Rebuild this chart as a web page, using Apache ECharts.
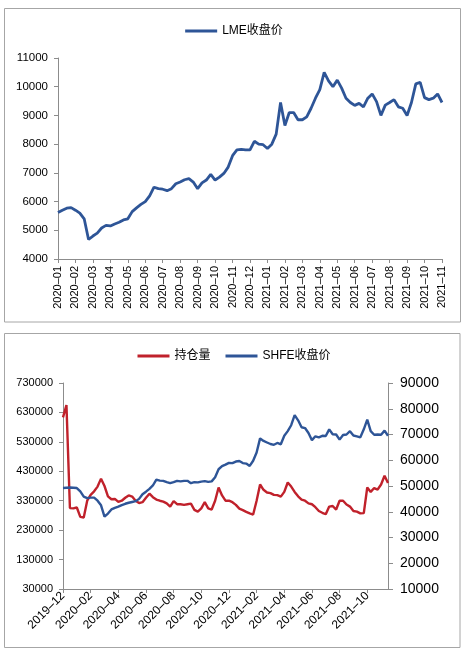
<!DOCTYPE html>
<html><head><meta charset="utf-8">
<script src="https://cdn.jsdelivr.net/npm/echarts@6/dist/echarts.min.js"></script>
<style>html,body{margin:0;padding:0;background:#fff;}#c{width:468px;height:655px;}</style>
</head><body><div id="c"></div>
<script>
// ---- Top chart: LME close (weekly readings, 4 per month) ----
const lmeMonths = ['2020-01','2020-02','2020-03','2020-04','2020-05','2020-06','2020-07','2020-08','2020-09','2020-10','2020-11','2020-12',
  '2021-01','2021-02','2021-03','2021-04','2021-05','2021-06','2021-07','2021-08','2021-09','2021-10','2021-11'];
const lmeClose = [
  5620,5700,5770,5790, 5700,5600,5400,4680, 4800,4900,5080,5170, 5150,5220,5280,5360,
  5400,5650,5780,5900, 6000,6200,6500,6450, 6430,6380,6450,6620, 6680,6760,6800,6680,
  6450,6650,6750,6950, 6750,6850,6980,7200, 7600,7800,7820,7800, 7800,8100,8000,7980,
  7850,8000,8350,9450, 8650,9100,9100,8850, 8850,8950,9250,9600, 9900,10500,10200,10000,
  10230,9950,9600,9450, 9350,9420,9300,9600, 9750,9480,9000,9360, 9450,9550,9300,9250,
  9000,9450,10100,10150, 9620,9550,9600,9750, 9450
];

// ---- Bottom chart: SHFE open interest & close (weekly readings) ----
const shfeMonths = ['2019-12','2020-01','2020-02','2020-03','2020-04','2020-05','2020-06','2020-07','2020-08','2020-09','2020-10','2020-11','2020-12',
  '2021-01','2021-02','2021-03','2021-04','2021-05','2021-06','2021-07','2021-08','2021-09','2021-10','2021-11'];
const openInterest = [
  613000,655000,305000,304000, 307000,275000,273000,330000, 350000,362000,378000,405000, 380000,345000,335000,336000,
  326000,330000,340000,348000, 344000,330000,322000,325000, 340000,354000,342000,334000, 330000,327000,321000,310000,
  329000,318000,318000,316000, 318000,320000,299000,293000, 304000,325000,304000,300000, 330000,375000,348000,330000,
  330000,325000,316000,303000, 298000,292000,287000,283000, 330000,385000,367000,358000, 356000,350000,349000,344000,
  360000,392000,378000,360000, 345000,334000,330000,321000, 318000,308000,295000,289000, 284000,310000,312000,300000,
  330000,330000,317000,310000, 295000,293000,287000,288000, 375000,360000,373000,368000, 385000,415000,390000
];
const shfeClose = [
  49200,49300,49400,49300, 49200,47900,45900,45300, 45500,45500,44300,42500, 38100,39300,40900,41500,
  42000,42600,43100,43500, 43800,44100,45000,46800, 47800,48900,50200,52500, 52100,52000,51500,51100,
  51500,52000,51800,52000, 52000,51100,51500,51400, 51700,51900,51600,51800, 53400,56500,57700,58300,
  59000,58900,59500,59700, 58900,58700,57800,59800, 63000,68500,67500,66900, 66300,66000,66700,66200,
  69500,71300,73600,77500, 75500,72800,72500,70600, 67800,69300,68900,69500, 69400,72000,70100,70000,
  68000,69800,70000,71300, 69600,69300,68900,72000, 75800,71300,69900,70000, 69900,71500,69500
];
const leftTicks = [30000,130000,230000,330000,430000,530000,630000,730000];

function weeklyCats(months, count) {
  const out = [];
  for (const m of months) for (let w = 1; w <= 4; w++) if (out.length < count) out.push(m + '-w' + w);
  return out;
}
const topCats = weeklyCats(lmeMonths, lmeClose.length);
const botCats = weeklyCats(shfeMonths, openInterest.length);

const FONT = "'Liberation Sans', Arial, 'Noto Sans CJK SC', sans-serif";
const BLUE = '#2E5597', RED = '#C0212B', AX = '#8c8c8c', TXT = '#000';
const fmtMonth = v => v.slice(0, 7).replace('-', '–');
const fmtNum = v => String(v);

const chart = echarts.init(document.getElementById('c'), null, {renderer: 'canvas'});
chart.setOption({
  animation: false,
  backgroundColor: '#fff',
  textStyle: {fontFamily: FONT},
  graphic: [
    {type: 'rect', shape: {x: 4.5, y: 8.5, width: 456, height: 313.5}, style: {fill: 'none', stroke: '#a6a6a6', lineWidth: 1}},
    {type: 'rect', shape: {x: 4.5, y: 333.5, width: 455.5, height: 314}, style: {fill: 'none', stroke: '#a6a6a6', lineWidth: 1}}
  ],
  legend: [
    {data: ['LME收盘价'], left: 'center', top: 20, icon: 'rect', itemWidth: 32, itemHeight: 3,
     textStyle: {fontFamily: FONT, fontSize: 12, color: TXT}},
    {data: ['持仓量', 'SHFE收盘价'], left: 'center', top: 345, icon: 'rect', itemWidth: 32, itemHeight: 3, itemGap: 15,
     textStyle: {fontFamily: FONT, fontSize: 12, color: TXT}}
  ],
  grid: [
    {left: 58, top: 58, width: 384, height: 201},
    {left: 63, top: 383, width: 325, height: 206}
  ],
  xAxis: [
    {gridIndex: 0, type: 'category', data: topCats, boundaryGap: false,
     axisLine: {lineStyle: {color: AX}},
     axisTick: {interval: 3, length: 4, lineStyle: {color: AX}},
     axisLabel: {interval: 3, rotate: 90, margin: 7, fontSize: 11, color: TXT, fontFamily: FONT, formatter: fmtMonth, hideOverlap: false},
     splitLine: {show: false}},
    {gridIndex: 1, type: 'category', data: botCats, boundaryGap: false,
     axisLine: {lineStyle: {color: AX}},
     axisTick: {interval: 7, length: 4, lineStyle: {color: AX}},
     axisLabel: {interval: 7, rotate: 45, margin: 5, fontSize: 12, color: TXT, fontFamily: FONT, formatter: fmtMonth, hideOverlap: false},
     splitLine: {show: false}}
  ],
  yAxis: [
    {gridIndex: 0, type: 'value', min: 4000, max: 11000, interval: 1000,
     axisLine: {show: true, lineStyle: {color: AX}},
     axisTick: {show: true, length: 4, lineStyle: {color: AX}},
     axisLabel: {margin: 10, fontSize: 11.5, color: TXT, fontFamily: FONT, formatter: fmtNum},
     splitLine: {show: false}},
    {gridIndex: 1, type: 'value', min: 30000, max: 730000,
     axisLine: {show: true, lineStyle: {color: AX}},
     axisTick: {show: true, length: 4, lineStyle: {color: AX}, customValues: leftTicks},
     axisLabel: {margin: 10, fontSize: 11, color: TXT, fontFamily: FONT, customValues: leftTicks, formatter: fmtNum},
     splitLine: {show: false}},
    {gridIndex: 1, type: 'value', position: 'right', min: 10000, max: 90000, interval: 10000,
     axisLine: {show: true, lineStyle: {color: AX}},
     axisTick: {show: true, length: 5, lineStyle: {color: AX}},
     axisLabel: {margin: 12, fontSize: 14, color: TXT, fontFamily: FONT, formatter: fmtNum},
     splitLine: {show: false}}
  ],
  series: [
    {name: 'LME收盘价', type: 'line', xAxisIndex: 0, yAxisIndex: 0, data: lmeClose, showSymbol: false,
     lineStyle: {color: BLUE, width: 2.8}, itemStyle: {color: BLUE}},
    {name: '持仓量', type: 'line', xAxisIndex: 1, yAxisIndex: 1, data: openInterest, showSymbol: false,
     lineStyle: {color: RED, width: 2.4}, itemStyle: {color: RED}},
    {name: 'SHFE收盘价', type: 'line', xAxisIndex: 1, yAxisIndex: 2, data: shfeClose, showSymbol: false,
     lineStyle: {color: BLUE, width: 2.4}, itemStyle: {color: BLUE}}
  ]
});
</script></body></html>
